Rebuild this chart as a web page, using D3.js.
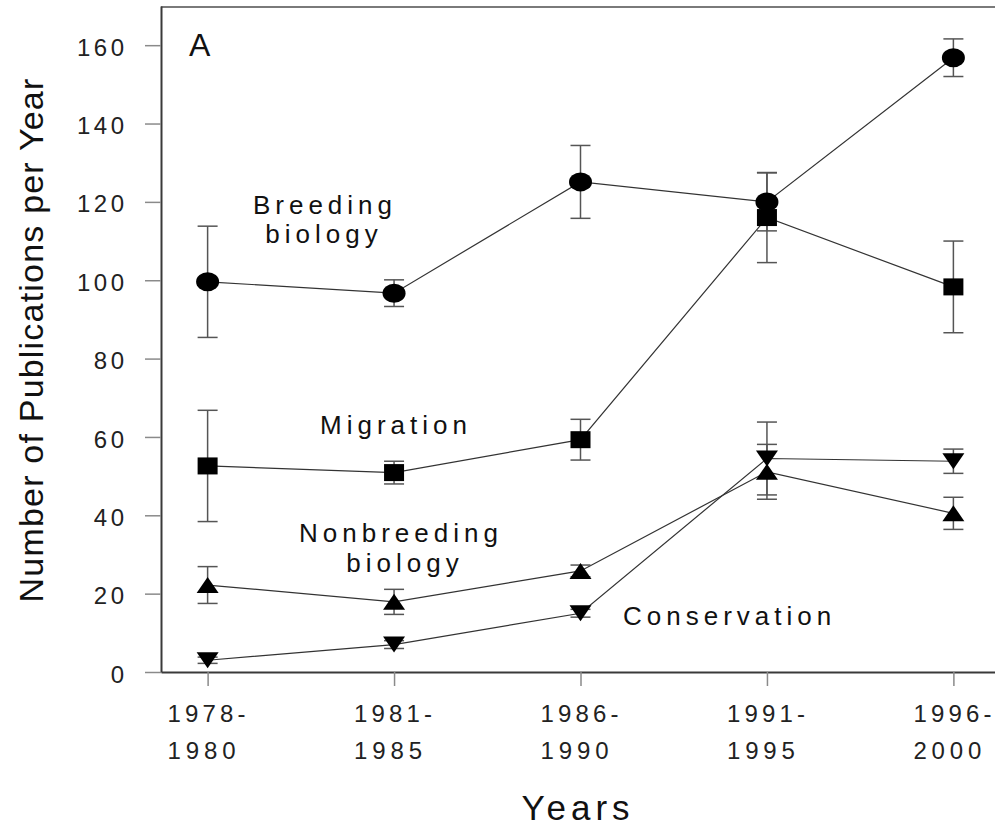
<!DOCTYPE html>
<html>
<head>
<meta charset="utf-8">
<script src="https://cdn.jsdelivr.net/npm/d3@7"></script>
<style>
  body { margin: 0; background: #fff; }
  text { font-family: "Liberation Sans", Arial, sans-serif; }
</style>
</head>
<body>
<div id="chart"></div>
<script>
var svgWidth = 995;
var svgHeight = 827;

// periods (tick labels on two lines)
var periods = ["1978-1980", "1981-1985", "1986-1990", "1991-1995", "1996-2000"];
var periodTop = ["1978-", "1981-", "1986-", "1991-", "1996-"];
var periodBottom = ["1980", "1985", "1990", "1995", "2000"];

// publications per year, mean and error
var breeding = [99.6, 96.7, 125.1, 120.0, 156.8];
var breedingErr = [14.2, 3.4, 9.3, 7.4, 4.8];
var migration = [52.6, 50.9, 59.3, 116.0, 98.3];
var migrationErr = [14.2, 2.9, 5.2, 11.5, 11.7];
var nonbreeding = [22.2, 17.9, 25.8, 51.1, 40.5];
var nonbreedingErr = [4.7, 3.2, 1.5, 7.0, 4.1];
var conservation = [3.0, 7.0, 15.0, 54.5, 53.8];
var conservationErr = [0.8, 1.0, 1.0, 9.3, 3.1];

var yTicks = [0, 20, 40, 60, 80, 100, 120, 140, 160];

var plotLeft = 161, plotRight = 1000, plotTop = 6, plotBottom = 672;

var svg = d3.select("#chart")
    .append("svg")
    .attr("width", svgWidth)
    .attr("height", svgHeight);

var xScale = d3.scalePoint()
    .domain(periods)
    .range([plotLeft, plotRight])
    .padding(0.25);

var yScale = d3.scaleLinear()
    .domain([0, 170])
    .range([plotBottom, plotTop]);

// frame top line
svg.append("line")
    .attr("x1", plotLeft).attr("x2", plotRight)
    .attr("y1", plotTop + 1).attr("y2", plotTop + 1)
    .attr("stroke", "#7a7a7a")
    .attr("stroke-width", 2);

// y axis
var yAxis = svg.append("g")
    .attr("transform", `translate(${plotLeft},0)`)
    .call(d3.axisLeft(yScale).tickValues(yTicks).tickSize(16).tickPadding(17.5).tickSizeOuter(0));
yAxis.select(".domain").attr("stroke", "#3a3a3a").attr("stroke-width", 2);
yAxis.selectAll(".tick line").attr("stroke", "#8a8a8a").attr("stroke-width", 1.5);
yAxis.selectAll(".tick text")
    .attr("dy", "0.42em")
    .attr("fill", "#222")
    .style("font-size", "24px")
    .style("letter-spacing", "3.5px");

// x axis
var xAxis = svg.append("g")
    .attr("transform", `translate(0,${plotBottom})`)
    .call(d3.axisBottom(xScale).tickSize(14).tickSizeOuter(0).tickFormat(""));
xAxis.select(".domain").attr("stroke", "#3a3a3a").attr("stroke-width", 2);
xAxis.selectAll(".tick line").attr("stroke", "#8a8a8a").attr("stroke-width", 1.5);

// two-line period labels, left aligned under each tick
var xLabels = svg.append("g")
    .attr("fill", "#222")
    .style("font-size", "24px");
periods.forEach(function(p, i) {
    xLabels.append("text")
        .attr("x", xScale(p) - 40)
        .attr("y", 722)
        .attr("textLength", 78)
        .attr("lengthAdjust", "spacing")
        .text(periodTop[i]);
    xLabels.append("text")
        .attr("x", xScale(p) - 40)
        .attr("y", 759)
        .attr("textLength", 68)
        .attr("lengthAdjust", "spacing")
        .text(periodBottom[i]);
});

// axis titles
svg.append("text")
    .attr("transform", "translate(43,340) rotate(-90)")
    .attr("text-anchor", "middle")
    .attr("fill", "#111")
    .style("font-size", "34px")
    .style("letter-spacing", "1.2px")
    .text("Number of Publications per Year");

svg.append("text")
    .attr("x", 578)
    .attr("y", 820)
    .attr("text-anchor", "middle")
    .attr("fill", "#111")
    .style("font-size", "35px")
    .style("letter-spacing", "5px")
    .text("Years");

svg.append("text")
    .attr("x", 189)
    .attr("y", 56)
    .attr("fill", "#111")
    .style("font-size", "32px")
    .text("A");

// series
var series = [
    {name: "conservation", values: conservation, err: conservationErr, shape: "down"},
    {name: "nonbreeding", values: nonbreeding, err: nonbreedingErr, shape: "up"},
    {name: "migration", values: migration, err: migrationErr, shape: "square"},
    {name: "breeding", values: breeding, err: breedingErr, shape: "circle"}
];

var line = d3.line()
    .x(function(d) { return xScale(d.period); })
    .y(function(d) { return yScale(d.value); });

series.forEach(function(s) {
    var pts = periods.map(function(p, i) {
        return {period: p, value: s.values[i], err: s.err[i]};
    });

    svg.append("path")
        .datum(pts)
        .attr("d", line)
        .attr("fill", "none")
        .attr("stroke", "#333")
        .attr("stroke-width", 1.2);

    var eb = svg.append("g").selectAll("g")
        .data(pts)
        .enter()
        .append("g")
        .attr("stroke", "#555")
        .attr("stroke-width", 1.5);
    eb.append("line")
        .attr("x1", d => xScale(d.period)).attr("x2", d => xScale(d.period))
        .attr("y1", d => yScale(d.value - d.err)).attr("y2", d => yScale(d.value + d.err));
    eb.append("line")
        .attr("x1", d => xScale(d.period) - 10).attr("x2", d => xScale(d.period) + 10)
        .attr("y1", d => yScale(d.value + d.err)).attr("y2", d => yScale(d.value + d.err));
    eb.append("line")
        .attr("x1", d => xScale(d.period) - 10).attr("x2", d => xScale(d.period) + 10)
        .attr("y1", d => yScale(d.value - d.err)).attr("y2", d => yScale(d.value - d.err));
});

series.forEach(function(s) {
    var pts = periods.map(function(p, i) {
        return {period: p, value: s.values[i]};
    });
    var g = svg.append("g").attr("fill", "#000");
    if (s.shape === "circle") {
        g.selectAll("ellipse").data(pts).enter().append("ellipse")
            .attr("cx", d => xScale(d.period))
            .attr("cy", d => yScale(d.value))
            .attr("rx", 11.5).attr("ry", 9.5);
    } else if (s.shape === "square") {
        g.selectAll("rect").data(pts).enter().append("rect")
            .attr("x", d => xScale(d.period) - 10)
            .attr("y", d => yScale(d.value) - 8.5)
            .attr("width", 20).attr("height", 17);
    } else {
        var shapePath = s.shape === "up" ? "M0,-8L11,8L-11,8Z" : "M-11,-8L11,-8L0,8Z";
        g.selectAll("path").data(pts).enter().append("path")
            .attr("d", shapePath)
            .attr("transform", d => `translate(${xScale(d.period)},${yScale(d.value)})`);
    }
});

// series labels
var labelStyle = function(t) {
    return t.attr("fill", "#111")
        .style("font-size", "26px")
        .style("letter-spacing", "5px");
};
labelStyle(svg.append("text").attr("x", 325).attr("y", 214).attr("text-anchor", "middle").text("Breeding"));
labelStyle(svg.append("text").attr("x", 324).attr("y", 243).attr("text-anchor", "middle").text("biology"));
labelStyle(svg.append("text").attr("x", 320).attr("y", 434).text("Migration"));
labelStyle(svg.append("text").attr("x", 401).attr("y", 542).attr("text-anchor", "middle").text("Nonbreeding"));
labelStyle(svg.append("text").attr("x", 405).attr("y", 572).attr("text-anchor", "middle").text("biology"));
labelStyle(svg.append("text").attr("x", 623).attr("y", 625).text("Conservation"));
</script>
</body>
</html>
